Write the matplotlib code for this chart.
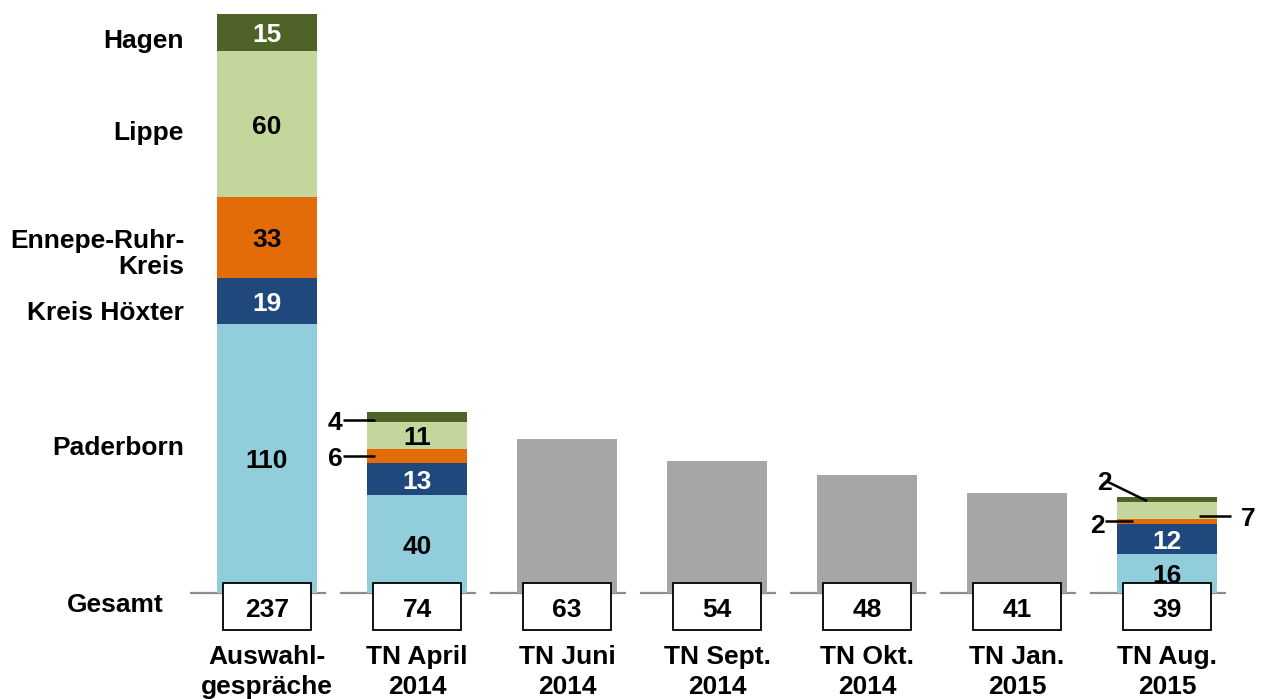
import matplotlib.pyplot as plt
from matplotlib.patches import Rectangle

plt.rcParams["font.family"] = ["Liberation Sans", "DejaVu Sans"]
plt.rcParams["font.weight"] = "bold"

# ============================================================================
# DATA
# ============================================================================
categories = ["Auswahl-\ngespräche", "TN April\n2014", "TN Juni\n2014", "TN Sept.\n2014",
              "TN Okt.\n2014", "TN Jan.\n2015", "TN Aug.\n2015"]
totals = [237, 74, 63, 54, 48, 41, 39]

regions = ["Paderborn", "Kreis Höxter", "Ennepe-Ruhr-\nKreis", "Lippe", "Hagen"]
# stacked breakdown (bottom -> top) for the categories that have one
breakdown_idx = [0, 1, 6]
paderborn = [110, 40, 16]
hoexter = [19, 13, 12]
ennepe = [33, 6, 2]
lippe = [60, 11, 7]
hagen = [15, 4, 2]

COLORS = ["#92CDDC", "#1F497D", "#E36C09", "#C3D69B", "#4F6228"]
TEXT_COLORS = ["black", "white", "black", "black", "white"]
GRAY = "#A6A6A6"
LINE_GRAY = "#8C8C8C"

# ============================================================================
# LAYOUT (pixel -> data helpers)
# ============================================================================
W, H = 1261, 699
X0, DX = 267.0, 150.0          # pixel centre of first bar, spacing
Y0, SY = 592.7, 2.442          # baseline pixel, pixels per unit
TXT_DY = 3                     # text sits a little lower than bbox centre


def px(x):
    return (x - X0) / DX


def py(y):
    return (Y0 - y) / SY


fig = plt.figure(figsize=(W / 100, H / 100), dpi=100)
ax = fig.add_axes([0, 0, 1, 1])
ax.set_xlim(px(0), px(W))
ax.set_ylim(py(H), py(0))
ax.axis("off")

FS = 19
bar_w = 100 / DX
xs = list(range(len(categories)))

# gray total bars (categories without breakdown)
for i in xs:
    if i not in breakdown_idx:
        ax.bar(i, totals[i], width=bar_w, color=GRAY, zorder=2)

# stacked bars
series = [paderborn, hoexter, ennepe, lippe, hagen]
for j, i in enumerate(breakdown_idx):
    bottom = 0
    for k, s in enumerate(series):
        v = s[j]
        ax.bar(i, v, width=bar_w, bottom=bottom, color=COLORS[k], zorder=2)
        if v >= 10:
            ax.text(i, bottom + v / 2 - TXT_DY / SY, str(v), ha="center", va="center",
                    fontsize=FS, color=TEXT_COLORS[k], zorder=4)
        bottom += v

# leader-line labels for thin segments: (category, series, text pos, line start, line end)
leaders = [
    (1, 4, (335, 420), (343, 420), (375, 420)),
    (1, 2, (335, 456), (343, 456), (375, 456)),
    (6, 4, (1104, 480), (1108, 482), (1147, 501)),
    (6, 2, (1097, 523), (1105, 521), (1133, 521)),
    (6, 3, (1248, 516), (1199, 516), (1231, 516)),
]
for ci, si, tpos, l0, l1 in leaders:
    v = series[si][breakdown_idx.index(ci)]
    ax.text(px(tpos[0]), py(tpos[1] + TXT_DY), str(v), ha="center", va="center",
            fontsize=FS, color="black", zorder=5)
    ax.plot([px(l0[0]), px(l1[0])], [py(l0[1]), py(l1[1])], color="black",
            lw=1.8, zorder=5, solid_capstyle="butt")

# baseline segments
for i in xs:
    ax.plot([i - 76 / DX, i + 58 / DX], [0, 0], color=LINE_GRAY, lw=1.6, zorder=1)

# total boxes
box_w = 88 / DX
for i in xs:
    ax.add_patch(Rectangle((i - box_w / 2, py(630)), box_w, py(583) - py(630),
                           facecolor="white", edgecolor="black", lw=1.3, zorder=3))
    ax.text(i, py(607 + TXT_DY), str(totals[i]), ha="center", va="center",
            fontsize=FS, color="black", zorder=4)

# category labels
for i in xs:
    ax.text(i, py(645), categories[i], ha="center", va="top",
            fontsize=FS, linespacing=1.3)

# region labels on the left
label_y = [445, 310, 251, 130, 38]
for name, y in zip(regions, label_y):
    ax.text(px(184), py(y + TXT_DY), name, ha="right", va="center", fontsize=FS,
            linespacing=1.15)
ax.text(px(164), py(602 + TXT_DY), "Gesamt", ha="right", va="center", fontsize=FS)

fig.savefig("out.png", dpi=100)
